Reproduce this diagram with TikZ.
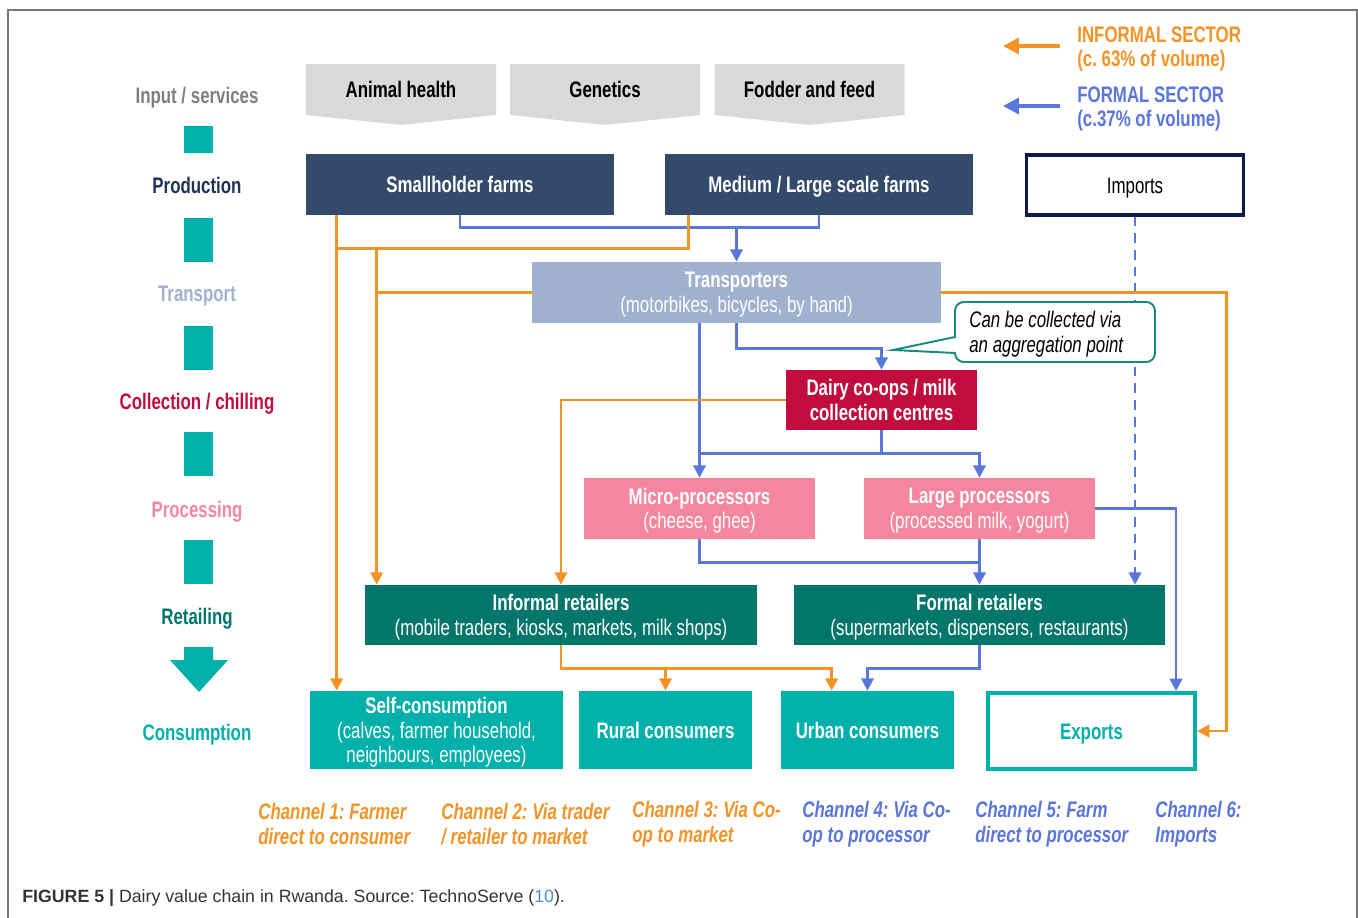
\documentclass[tikz,border=0pt]{standalone}
\usepackage{fontspec}
\setmainfont{Liberation Sans}[FakeStretch=0.75]
\newfontfamily\capfont{Liberation Sans}
\usetikzlibrary{arrows.meta}
\frenchspacing

\definecolor{navy}{HTML}{344A6A}
\definecolor{importnavy}{HTML}{0D1A4E}
\definecolor{transblue}{HTML}{9FB1CF}
\definecolor{crimson}{HTML}{C10D3D}
\definecolor{procpink}{HTML}{F5869F}
\definecolor{retailteal}{HTML}{03766C}
\definecolor{tealc}{HTML}{00B0AA}
\definecolor{informalorange}{HTML}{F39325}
\definecolor{formalblue}{HTML}{5A75DC}
\definecolor{bannergray}{HTML}{D9D9D9}
\definecolor{labgray}{HTML}{7F7F7F}
\definecolor{labnavy}{HTML}{1F3356}
\definecolor{calloutteal}{HTML}{178A80}
\definecolor{framegray}{HTML}{777777}
\definecolor{capgray}{HTML}{333333}
\definecolor{refblue}{HTML}{4A90C0}

\newcommand{\dfont}{\fontsize{12.8}{14}\selectfont}
\newcommand{\Banner}[3]{% name, centre x, text
\fill[bannergray] (#2-95,64) -- (#2+95,64) -- (#2+95,115) -- (#2,125) -- (#2-95,115) -- cycle;%
\node[font=\dfont\bfseries, text height=9.2pt, text depth=0pt] (#1) at (#2,89) {#3};%
}

\begin{document}
\begin{tikzpicture}[x=0.02cm, y=-0.02cm, >={Triangle[length=7pt,width=7pt]},
box/.style={fill=#1, text=white, font=\dfont, align=center, inner sep=0pt, text depth=0pt},
oneline/.style={text height=9.2pt},
formal/.style={formalblue, line width=1.5pt},
informal/.style={informalorange, line width=1.5pt},
stagelabel/.style={font=\dfont\bfseries, text=#1, text height=9.2pt, text depth=0pt},
channel/.style={font=\dfont\bfseries\itshape, text=#1, align=left, anchor=west, inner sep=0pt},
]
\useasboundingbox (0,0) rectangle (1358,918);
\draw[framegray, line width=0.8pt] (8,918) -- (8,10) -- (1357,10) -- (1357,918);

%%%%%%%%%%%%%%%% STAGES (left column) %%%%%%%%%%%%%%%%
\foreach \ya/\yb in {126/153, 218/262, 326/370, 432/476, 540/584}
  \fill[tealc] (184,\ya) rectangle (213,\yb);
\fill[tealc] (184,647) -- (213,647) -- (213,660) -- (228,660) -- (199,692) -- (170,660) -- (184,660) -- cycle;

\node[stagelabel=labgray] (lInput) at (197,95) {Input / services};
\node[stagelabel=labnavy] (lProd) at (197,185) {Production};
\node[stagelabel=transblue] (lTrans) at (197,293) {Transport};
\node[stagelabel=crimson] (lColl) at (197,401) {Collection / chilling};
\node[stagelabel=procpink] (lProc) at (197,509) {Processing};
\node[stagelabel=retailteal] (lRetail) at (197,616) {Retailing};
\node[stagelabel=tealc] (lCons) at (197,732) {Consumption};

%%%%%%%%%%%%%%%% INPUTS %%%%%%%%%%%%%%%%
\Banner{health}{401}{Animal health}
\Banner{genetics}{605}{Genetics}
\Banner{fodder}{809.5}{Fodder and feed}

%%%%%%%%%%%%%%%% LEGEND %%%%%%%%%%%%%%%%
\coordinate (infA) at (1060,46);
\coordinate (forA) at (1060,106);
\draw[informal, line width=2pt, -{Triangle[length=9pt,width=9pt]}] (infA) -- ++(-57,0);
\draw[formal, line width=2pt, -{Triangle[length=9pt,width=9pt]}] (forA) -- ++(-57,0);
\node[anchor=west, align=left, inner sep=0pt, font=\dfont\bfseries, text=informalorange] (legInf) at (1077,49) {INFORMAL SECTOR\\(c. 63\% of volume)};
\node[anchor=west, align=left, inner sep=0pt, font=\dfont\bfseries, text=formalblue] (legFor) at (1077,109) {FORMAL SECTOR\\(c.37\% of volume)};

%%%%%%%%%%%%%%%% BOXES %%%%%%%%%%%%%%%%
\node[box=navy, oneline, minimum width=6.16cm, minimum height=1.22cm] (small) at (460,184.5) {\bfseries Smallholder farms};
\node[box=navy, oneline, minimum width=6.16cm, minimum height=1.22cm] (medium) at (819,184.5) {\bfseries Medium / Large scale farms};
\node[box=white, oneline, text=black, draw=importnavy, line width=1.8pt, minimum width=4.35cm, minimum height=1.2cm] (imports) at (1135,185) {Imports};
\node[box=transblue, minimum width=8.18cm, minimum height=1.22cm] (trans) at (736.5,292.5) {\textbf{Transporters}\\(motorbikes, bicycles, by hand)};
\node[box=crimson, minimum width=3.82cm, minimum height=1.2cm] (dairy) at (881.5,400) {\bfseries Dairy co-ops / milk\\\bfseries collection centres};
\node[box=procpink, minimum width=4.62cm, minimum height=1.22cm] (micro) at (699.5,508.5) {\textbf{Micro-processors}\\(cheese, ghee)};
\node[box=procpink, minimum width=4.62cm, minimum height=1.22cm] (large) at (979.5,508.5) {\textbf{Large processors}\\(processed milk, yogurt)};
\node[box=retailteal, minimum width=7.84cm, minimum height=1.2cm] (informal) at (561,615) {\textbf{Informal retailers}\\(mobile traders, kiosks, markets, milk shops)};
\node[box=retailteal, minimum width=7.42cm, minimum height=1.2cm] (formal) at (979.5,615) {\textbf{Formal retailers}\\(supermarkets, dispensers, restaurants)};
\node[box=tealc, minimum width=5.06cm, minimum height=1.56cm] (self) at (436.5,730) {\textbf{Self-consumption}\\(calves, farmer household,\\neighbours, employees)};
\node[box=tealc, oneline, minimum width=3.46cm, minimum height=1.56cm] (rural) at (665.5,730) {\bfseries Rural consumers};
\node[box=tealc, oneline, minimum width=3.46cm, minimum height=1.56cm] (urban) at (867.5,730) {\bfseries Urban consumers};
\node[box=white, oneline, text=tealc, draw=tealc, line width=2.3pt, minimum width=4.14cm, minimum height=1.52cm] (exports) at (1091.5,731) {\bfseries Exports};

%%%%%%%%%%%%%%%% FORMAL FLOWS %%%%%%%%%%%%%%%%
\draw[formal] (small.south) -- ++(0,12) -| (medium.south);
\draw[formal, ->] (trans.north) ++(0,-35) -- (trans.north);
\draw[formal, ->] (trans.south) -- ++(0,25) -| (dairy.north);
\draw[formal, ->] (trans.south -| micro.north) -- (micro.north);
\draw[formal] (dairy.south) -- ++(0,23) coordinate (dairyJ);
\draw[formal, ->] (dairyJ) -| (large.north);
\draw[formal] (dairyJ) -- (dairyJ -| micro.north);
\draw[formal, ->] (large.south) -- (formal.north);
\draw[formal] (micro.south) -- ++(0,23) -| (large.south);
\draw[formal, ->] (large.east) -| ([xshift=-0.42cm]exports.north east);
\draw[formal, dash pattern=on 5.5pt off 4pt, ->] (imports.south) -- (imports.south |- formal.north);
\draw[formal, ->] (formal.south) -- ++(0,23) -| (urban.north);

%%%%%%%%%%%%%%%% INFORMAL FLOWS %%%%%%%%%%%%%%%%
\coordinate (selfL) at ([xshift=0.62cm]small.south west);
\coordinate (infL) at ([xshift=0.24cm]informal.north west);
\draw[informal, ->] (selfL) -- (selfL |- self.north);
\draw[informal] ([xshift=0.48cm]medium.south west) -- ++(0,33) coordinate (medJ) -- (medJ -| selfL);
\draw[informal, ->] (infL |- medJ) -- (infL);
\draw[informal] (trans.west) -- (trans.west -| infL);
\draw[informal, ->] (dairy.west) -| (informal.north);
\draw[informal, ->] (informal.south) -- ++(0,23) coordinate (infJ) -| ([xshift=1.02cm]urban.north west);
\draw[informal, ->] (infJ -| rural.north) -- (rural.north);
\draw[informal, ->] (trans.east) -- ++(285,0) |- (exports.east);

%%%%%%%%%%%%%%%% CALLOUT %%%%%%%%%%%%%%%%
\draw[calloutteal, fill=white, line width=1.1pt] (955,337) [rounded corners=5pt] -- (955,302) -- (1155,302) -- (1155,362) -- (955,362) [sharp corners] -- (955,353) -- (893,350) -- cycle;
\node[anchor=west, align=left, inner sep=0pt, font=\dfont\itshape] (note) at (969,334) {Can be collected via\\an aggregation point};

%%%%%%%%%%%%%%%% CHANNELS %%%%%%%%%%%%%%%%
\node[channel=informalorange] (ch1) at (258,824) {Channel 1: Farmer\\direct to consumer};
\node[channel=informalorange] (ch2) at (441,824) {Channel 2: Via trader\\/ retailer to market};
\node[channel=informalorange] (ch3) at (632,824) {Channel 3: Via Co-\\op to market};
\node[channel=formalblue] (ch4) at (802,824) {Channel 4: Via Co-\\op to processor};
\node[channel=formalblue] (ch5) at (975,824) {Channel 5: Farm\\direct to processor};
\node[channel=formalblue] (ch6) at (1155,824) {Channel 6:\\Imports};

%%%%%%%%%%%%%%%% CAPTION %%%%%%%%%%%%%%%%
\node[anchor=west, inner sep=0pt, font=\capfont\fontsize{10.1}{12}\selectfont, text=capgray] (caption) at (22,898) {\textbf{FIGURE 5 |} Dairy value chain in Rwanda. Source: TechnoServe (\textcolor{refblue}{10}).};
\end{tikzpicture}
\end{document}
